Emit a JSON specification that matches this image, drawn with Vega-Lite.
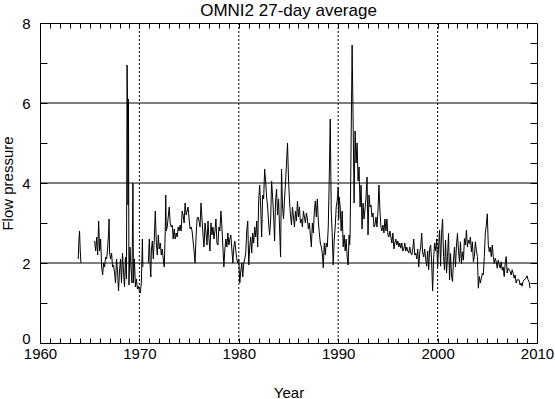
{
  "$schema": "https://vega.github.io/schema/vega-lite/v6.json",
  "width": 497,
  "height": 320,
  "autosize": {"type": "none"},
  "padding": {"left": 40, "top": 23, "right": 18, "bottom": 56},
  "background": "white",
  "title": {"text": "OMNI2 27-day average", "fontSize": 17, "font": "Liberation Sans", "fontWeight": "normal", "color": "black", "offset": -4},
  "config": {
    "view": {"stroke": "black", "strokeWidth": 1},
    "axis": {"labelFont": "Liberation Sans", "titleFont": "Liberation Sans", "labelFontSize": 15, "titleFontSize": 15, "titleFontWeight": "normal", "labelColor": "black", "titleColor": "black", "tickColor": "black", "domain": false, "grid": false, "labelFlush": false, "labelOverlap": false}
  },
  "datasets": {
    "hgrid": [{"v": 2}, {"v": 4}, {"v": 6}],
    "vgrid": [{"yr": 1970}, {"yr": 1980}, {"yr": 1990}, {"yr": 2000}],
    "series": [
      {"t":1963.85,"p":2.1,"s":1},{"t":1963.92,"p":2.6,"s":1},{"t":1963.98,"p":2.8,"s":1},{"t":1964.05,"p":2.3,"s":1},{"t":1964.12,"p":2.0,"s":1},
      {"t":1965.5,"p":2.55,"s":2},{"t":1965.6,"p":2.3,"s":2},{"t":1965.7,"p":2.65,"s":2},{"t":1965.8,"p":2.2,"s":2},{"t":1965.9,"p":3.05,"s":2},{"t":1966.0,"p":2.3,"s":2},{"t":1966.1,"p":2.6,"s":2},{"t":1966.2,"p":1.9,"s":2},{"t":1966.3,"p":1.7,"s":2},{"t":1966.4,"p":2.0,"s":2},{"t":1966.5,"p":1.9,"s":2},{"t":1966.6,"p":2.15,"s":2},{"t":1966.7,"p":2.1,"s":2},{"t":1966.8,"p":2.35,"s":2},{"t":1966.9,"p":2.75,"s":2},{"t":1966.95,"p":3.1,"s":2},{"t":1967.0,"p":2.25,"s":2},{"t":1967.1,"p":2.1,"s":2},{"t":1967.2,"p":2.25,"s":2},{"t":1967.3,"p":1.9,"s":2},{"t":1967.4,"p":1.95,"s":2},{"t":1967.5,"p":1.75,"s":2},{"t":1967.6,"p":1.5,"s":2},{"t":1967.7,"p":2.1,"s":2},{"t":1967.8,"p":1.8,"s":2},{"t":1967.9,"p":1.3,"s":2},{"t":1968.0,"p":1.8,"s":2},{"t":1968.1,"p":2.1,"s":2},{"t":1968.2,"p":1.5,"s":2},{"t":1968.3,"p":2.25,"s":2},{"t":1968.4,"p":1.8,"s":2},{"t":1968.5,"p":1.4,"s":2},{"t":1968.6,"p":2.15,"s":2},{"t":1968.7,"p":1.6,"s":2},{"t":1968.76,"p":6.95,"s":2},{"t":1968.8,"p":6.05,"s":2},{"t":1968.85,"p":3.45,"s":2},{"t":1968.9,"p":6.1,"s":2},{"t":1968.95,"p":1.45,"s":2},{"t":1969.05,"p":2.4,"s":2},{"t":1969.15,"p":1.9,"s":2},{"t":1969.25,"p":1.5,"s":2},{"t":1969.35,"p":4.0,"s":2},{"t":1969.4,"p":1.5,"s":2},{"t":1969.5,"p":2.1,"s":2},{"t":1969.6,"p":1.4,"s":2},{"t":1969.7,"p":1.6,"s":2},{"t":1969.8,"p":1.35,"s":2},{"t":1969.9,"p":1.42,"s":2},{"t":1970.0,"p":1.3,"s":2},{"t":1970.1,"p":1.25,"s":2},{"t":1970.2,"p":1.55,"s":2},{"t":1970.3,"p":2.6,"s":2},{"t":1970.35,"p":1.9,"s":2},
      {"t":1970.9,"p":2.0,"s":3},{"t":1971.0,"p":2.6,"s":3},{"t":1971.1,"p":1.85,"s":3},{"t":1971.15,"p":1.65,"s":3},{"t":1971.2,"p":2.3,"s":3},{"t":1971.3,"p":2.55,"s":3},{"t":1971.4,"p":2.1,"s":3},{"t":1971.5,"p":2.6,"s":3},{"t":1971.6,"p":3.3,"s":3},{"t":1971.7,"p":2.5,"s":3},{"t":1971.8,"p":2.2,"s":3},{"t":1971.9,"p":2.7,"s":3},{"t":1972.0,"p":2.35,"s":3},{"t":1972.1,"p":2.5,"s":3},{"t":1972.2,"p":2.2,"s":3},{"t":1972.3,"p":2.35,"s":3},{"t":1972.4,"p":2.1,"s":3},{"t":1972.5,"p":1.9,"s":3},{"t":1972.6,"p":2.8,"s":3},{"t":1972.65,"p":3.7,"s":3},{"t":1972.7,"p":2.8,"s":3},{"t":1972.8,"p":2.9,"s":3},{"t":1972.9,"p":3.15,"s":3},{"t":1973.0,"p":3.4,"s":3},{"t":1973.1,"p":3.0,"s":3},{"t":1973.2,"p":2.9,"s":3},{"t":1973.3,"p":2.95,"s":3},{"t":1973.4,"p":2.6,"s":3},{"t":1973.5,"p":2.85,"s":3},{"t":1973.6,"p":2.6,"s":3},{"t":1973.7,"p":2.75,"s":3},{"t":1973.8,"p":2.65,"s":3},{"t":1973.9,"p":2.9,"s":3},{"t":1974.0,"p":2.8,"s":3},{"t":1974.1,"p":2.95,"s":3},{"t":1974.2,"p":2.8,"s":3},{"t":1974.3,"p":3.3,"s":3},{"t":1974.4,"p":3.2,"s":3},{"t":1974.5,"p":3.0,"s":3},{"t":1974.6,"p":3.5,"s":3},{"t":1974.7,"p":3.2,"s":3},{"t":1974.8,"p":3.3,"s":3},{"t":1974.9,"p":3.4,"s":3},{"t":1975.0,"p":3.1,"s":3},{"t":1975.1,"p":2.85,"s":3},{"t":1975.2,"p":2.9,"s":3},{"t":1975.3,"p":2.8,"s":3},{"t":1975.4,"p":2.55,"s":3},{"t":1975.5,"p":2.3,"s":3},{"t":1975.6,"p":2.0,"s":3},{"t":1975.7,"p":2.65,"s":3},{"t":1975.8,"p":3.1,"s":3},{"t":1975.9,"p":3.15,"s":3},{"t":1976.0,"p":3.05,"s":3},{"t":1976.1,"p":2.9,"s":3},{"t":1976.2,"p":3.5,"s":3},{"t":1976.3,"p":3.1,"s":3},{"t":1976.4,"p":2.7,"s":3},{"t":1976.5,"p":2.4,"s":3},{"t":1976.6,"p":3.0,"s":3},{"t":1976.7,"p":2.75,"s":3},{"t":1976.8,"p":2.45,"s":3},{"t":1976.9,"p":3.05,"s":3},{"t":1977.0,"p":2.6,"s":3},{"t":1977.1,"p":2.3,"s":3},{"t":1977.2,"p":3.0,"s":3},{"t":1977.3,"p":2.7,"s":3},{"t":1977.4,"p":2.9,"s":3},{"t":1977.5,"p":2.6,"s":3},{"t":1977.6,"p":2.8,"s":3},{"t":1977.7,"p":3.1,"s":3},{"t":1977.8,"p":2.5,"s":3},{"t":1977.9,"p":2.45,"s":3},{"t":1978.0,"p":2.9,"s":3},{"t":1978.1,"p":2.8,"s":3},{"t":1978.2,"p":3.3,"s":3},{"t":1978.3,"p":2.9,"s":3},{"t":1978.4,"p":2.4,"s":3},{"t":1978.5,"p":1.9,"s":3},{"t":1978.6,"p":2.35,"s":3},{"t":1978.7,"p":2.6,"s":3},{"t":1978.8,"p":2.4,"s":3},{"t":1978.9,"p":2.75,"s":3},{"t":1979.0,"p":2.45,"s":3},{"t":1979.1,"p":2.6,"s":3},{"t":1979.2,"p":2.7,"s":3},{"t":1979.3,"p":2.35,"s":3},{"t":1979.4,"p":2.0,"s":3},{"t":1979.5,"p":2.4,"s":3},{"t":1979.6,"p":2.55,"s":3},{"t":1979.7,"p":2.3,"s":3},{"t":1979.8,"p":2.1,"s":3},{"t":1979.9,"p":2.0,"s":3},{"t":1980.0,"p":2.1,"s":3},{"t":1980.05,"p":1.75,"s":3},{"t":1980.1,"p":1.5,"s":3},{"t":1980.2,"p":1.8,"s":3},{"t":1980.3,"p":2.0,"s":3},{"t":1980.4,"p":1.65,"s":3},{"t":1980.5,"p":2.0,"s":3},{"t":1980.6,"p":2.1,"s":3},{"t":1980.7,"p":2.25,"s":3},{"t":1980.8,"p":2.8,"s":3},{"t":1980.9,"p":3.05,"s":3},{"t":1981.0,"p":1.95,"s":3},{"t":1981.1,"p":2.4,"s":3},{"t":1981.2,"p":2.65,"s":3},{"t":1981.3,"p":2.25,"s":3},{"t":1981.4,"p":2.75,"s":3},{"t":1981.5,"p":2.5,"s":3},{"t":1981.6,"p":2.9,"s":3},{"t":1981.7,"p":2.65,"s":3},{"t":1981.8,"p":3.05,"s":3},{"t":1981.9,"p":2.4,"s":3},{"t":1982.0,"p":3.55,"s":3},{"t":1982.1,"p":3.95,"s":3},{"t":1982.2,"p":3.4,"s":3},{"t":1982.3,"p":2.65,"s":3},{"t":1982.4,"p":3.7,"s":3},{"t":1982.5,"p":3.6,"s":3},{"t":1982.6,"p":4.35,"s":3},{"t":1982.7,"p":4.05,"s":3},{"t":1982.8,"p":3.65,"s":3},{"t":1982.9,"p":3.4,"s":3},{"t":1983.0,"p":3.0,"s":3},{"t":1983.1,"p":2.7,"s":3},{"t":1983.2,"p":3.05,"s":3},{"t":1983.3,"p":4.05,"s":3},{"t":1983.4,"p":3.65,"s":3},{"t":1983.5,"p":3.2,"s":3},{"t":1983.6,"p":2.55,"s":3},{"t":1983.7,"p":3.55,"s":3},{"t":1983.8,"p":3.85,"s":3},{"t":1983.9,"p":3.2,"s":3},{"t":1984.0,"p":3.6,"s":3},{"t":1984.1,"p":2.9,"s":3},{"t":1984.2,"p":2.15,"s":3},{"t":1984.3,"p":4.35,"s":3},{"t":1984.4,"p":3.4,"s":3},{"t":1984.5,"p":3.1,"s":3},{"t":1984.6,"p":3.6,"s":3},{"t":1984.7,"p":4.0,"s":3},{"t":1984.8,"p":4.5,"s":3},{"t":1984.9,"p":5.0,"s":3},{"t":1985.0,"p":4.1,"s":3},{"t":1985.1,"p":3.55,"s":3},{"t":1985.2,"p":3.2,"s":3},{"t":1985.3,"p":2.95,"s":3},{"t":1985.4,"p":3.4,"s":3},{"t":1985.5,"p":3.15,"s":3},{"t":1985.6,"p":2.9,"s":3},{"t":1985.7,"p":3.3,"s":3},{"t":1985.8,"p":3.05,"s":3},{"t":1985.9,"p":3.55,"s":3},{"t":1986.0,"p":3.15,"s":3},{"t":1986.1,"p":3.4,"s":3},{"t":1986.2,"p":3.0,"s":3},{"t":1986.3,"p":3.1,"s":3},{"t":1986.4,"p":2.9,"s":3},{"t":1986.5,"p":3.3,"s":3},{"t":1986.6,"p":3.15,"s":3},{"t":1986.7,"p":3.0,"s":3},{"t":1986.8,"p":3.25,"s":3},{"t":1986.9,"p":3.1,"s":3},{"t":1987.0,"p":2.85,"s":3},{"t":1987.1,"p":3.0,"s":3},{"t":1987.2,"p":2.7,"s":3},{"t":1987.3,"p":2.4,"s":3},{"t":1987.4,"p":3.0,"s":3},{"t":1987.5,"p":2.75,"s":3},{"t":1987.6,"p":3.3,"s":3},{"t":1987.7,"p":3.55,"s":3},{"t":1987.8,"p":3.15,"s":3},{"t":1987.9,"p":3.6,"s":3},{"t":1988.0,"p":3.05,"s":3},{"t":1988.1,"p":2.75,"s":3},{"t":1988.2,"p":2.5,"s":3},{"t":1988.3,"p":2.4,"s":3},{"t":1988.4,"p":2.25,"s":3},{"t":1988.5,"p":1.88,"s":3},{"t":1988.6,"p":2.5,"s":3},{"t":1988.7,"p":2.2,"s":3},{"t":1988.8,"p":2.5,"s":3},{"t":1988.9,"p":2.4,"s":3},{"t":1989.0,"p":2.9,"s":3},{"t":1989.1,"p":4.1,"s":3},{"t":1989.2,"p":5.6,"s":3},{"t":1989.3,"p":3.3,"s":3},{"t":1989.4,"p":2.7,"s":3},{"t":1989.5,"p":1.95,"s":3},{"t":1989.6,"p":2.6,"s":3},{"t":1989.7,"p":2.9,"s":3},{"t":1989.8,"p":3.4,"s":3},{"t":1989.9,"p":3.55,"s":3},{"t":1990.0,"p":3.9,"s":3},{"t":1990.05,"p":3.1,"s":3},{"t":1990.1,"p":3.65,"s":3},{"t":1990.2,"p":3.4,"s":3},{"t":1990.3,"p":2.8,"s":3},{"t":1990.4,"p":3.3,"s":3},{"t":1990.5,"p":2.4,"s":3},{"t":1990.6,"p":2.7,"s":3},{"t":1990.7,"p":2.3,"s":3},{"t":1990.8,"p":2.6,"s":3},{"t":1990.9,"p":2.15,"s":3},{"t":1991.0,"p":1.95,"s":3},{"t":1991.1,"p":2.7,"s":3},{"t":1991.15,"p":2.45,"s":3},{"t":1991.2,"p":2.75,"s":3},{"t":1991.3,"p":5.05,"s":3},{"t":1991.4,"p":7.45,"s":3},{"t":1991.5,"p":5.55,"s":3},{"t":1991.6,"p":3.5,"s":3},{"t":1991.7,"p":5.3,"s":3},{"t":1991.8,"p":4.5,"s":3},{"t":1991.9,"p":5.0,"s":3},{"t":1992.0,"p":4.05,"s":3},{"t":1992.1,"p":4.4,"s":3},{"t":1992.2,"p":3.4,"s":3},{"t":1992.3,"p":3.95,"s":3},{"t":1992.4,"p":2.85,"s":3},{"t":1992.5,"p":3.5,"s":3},{"t":1992.6,"p":3.1,"s":3},{"t":1992.7,"p":3.35,"s":3},{"t":1992.8,"p":3.65,"s":3},{"t":1992.9,"p":4.15,"s":3},{"t":1993.0,"p":2.7,"s":3},{"t":1993.1,"p":3.7,"s":3},{"t":1993.2,"p":3.4,"s":3},{"t":1993.3,"p":3.45,"s":3},{"t":1993.4,"p":3.15,"s":3},{"t":1993.5,"p":3.25,"s":3},{"t":1993.6,"p":2.9,"s":3},{"t":1993.7,"p":2.95,"s":3},{"t":1993.8,"p":3.15,"s":3},{"t":1993.9,"p":2.9,"s":3},{"t":1994.0,"p":3.3,"s":3},{"t":1994.1,"p":3.95,"s":3},{"t":1994.2,"p":3.3,"s":3},{"t":1994.3,"p":2.9,"s":3},{"t":1994.4,"p":2.8,"s":3},{"t":1994.5,"p":2.95,"s":3},{"t":1994.6,"p":2.75,"s":3},{"t":1994.7,"p":3.1,"s":3},{"t":1994.8,"p":2.8,"s":3},{"t":1994.9,"p":3.1,"s":3},{"t":1995.0,"p":2.7,"s":3},{"t":1995.1,"p":2.65,"s":3},{"t":1995.2,"p":2.8,"s":3},{"t":1995.3,"p":2.65,"s":3},{"t":1995.4,"p":2.5,"s":3},{"t":1995.5,"p":2.75,"s":3},{"t":1995.6,"p":2.35,"s":3},{"t":1995.7,"p":2.5,"s":3},{"t":1995.8,"p":2.6,"s":3},{"t":1995.9,"p":2.45,"s":3},{"t":1996.0,"p":2.55,"s":3},{"t":1996.1,"p":2.4,"s":3},{"t":1996.2,"p":2.5,"s":3},{"t":1996.3,"p":2.37,"s":3},{"t":1996.4,"p":2.5,"s":3},{"t":1996.5,"p":2.3,"s":3},{"t":1996.6,"p":2.35,"s":3},{"t":1996.7,"p":2.5,"s":3},{"t":1996.8,"p":2.3,"s":3},{"t":1996.9,"p":2.4,"s":3},{"t":1997.0,"p":2.3,"s":3},{"t":1997.1,"p":2.25,"s":3},{"t":1997.2,"p":2.4,"s":3},{"t":1997.3,"p":2.25,"s":3},{"t":1997.4,"p":2.2,"s":3},{"t":1997.5,"p":2.35,"s":3},{"t":1997.6,"p":2.6,"s":3},{"t":1997.7,"p":2.2,"s":3},{"t":1997.8,"p":2.25,"s":3},{"t":1997.9,"p":2.1,"s":3},{"t":1998.0,"p":2.35,"s":3},{"t":1998.1,"p":1.9,"s":3},{"t":1998.2,"p":2.25,"s":3},{"t":1998.3,"p":2.4,"s":3},{"t":1998.4,"p":2.75,"s":3},{"t":1998.5,"p":2.25,"s":3},{"t":1998.6,"p":2.15,"s":3},{"t":1998.7,"p":2.35,"s":3},{"t":1998.8,"p":2.1,"s":3},{"t":1998.9,"p":1.92,"s":3},{"t":1999.0,"p":2.3,"s":3},{"t":1999.1,"p":1.83,"s":3},{"t":1999.2,"p":2.35,"s":3},{"t":1999.3,"p":2.45,"s":3},{"t":1999.4,"p":2.05,"s":3},{"t":1999.45,"p":1.65,"s":3},{"t":1999.5,"p":1.3,"s":3},{"t":1999.6,"p":2.1,"s":3},{"t":1999.7,"p":2.5,"s":3},{"t":1999.8,"p":2.3,"s":3},{"t":1999.9,"p":2.6,"s":3},
      {"t":2000.0,"p":1.9,"s":3},{"t":2000.1,"p":2.4,"s":3},{"t":2000.2,"p":2.82,"s":3},{"t":2000.3,"p":1.92,"s":3},{"t":2000.4,"p":2.74,"s":3},{"t":2000.5,"p":3.1,"s":3},{"t":2000.6,"p":2.16,"s":3},{"t":2000.7,"p":1.83,"s":3},{"t":2000.8,"p":2.57,"s":3},{"t":2000.9,"p":1.75,"s":3},{"t":2001.0,"p":2.16,"s":3},{"t":2001.1,"p":2.74,"s":3},{"t":2001.2,"p":1.58,"s":3},{"t":2001.3,"p":2.24,"s":3},{"t":2001.4,"p":1.67,"s":3},{"t":2001.5,"p":1.54,"s":3},{"t":2001.6,"p":2.07,"s":3},{"t":2001.7,"p":2.4,"s":3},{"t":2001.8,"p":1.9,"s":3},{"t":2001.9,"p":2.45,"s":3},{"t":2002.0,"p":2.74,"s":3},{"t":2002.1,"p":2.32,"s":3},{"t":2002.2,"p":2.03,"s":3},{"t":2002.3,"p":2.53,"s":3},{"t":2002.4,"p":1.99,"s":3},{"t":2002.5,"p":2.28,"s":3},{"t":2002.6,"p":2.07,"s":3},{"t":2002.7,"p":2.61,"s":3},{"t":2002.8,"p":2.45,"s":3},{"t":2002.9,"p":2.82,"s":3},{"t":2003.0,"p":2.4,"s":3},{"t":2003.1,"p":2.57,"s":3},{"t":2003.2,"p":2.49,"s":3},{"t":2003.3,"p":2.65,"s":3},{"t":2003.4,"p":2.28,"s":3},{"t":2003.5,"p":2.53,"s":3},{"t":2003.6,"p":2.03,"s":3},{"t":2003.7,"p":2.16,"s":3},{"t":2003.8,"p":2.53,"s":3},{"t":2003.9,"p":2.32,"s":3},{"t":2004.0,"p":2.16,"s":3},{"t":2004.1,"p":1.37,"s":3},{"t":2004.2,"p":1.66,"s":3},{"t":2004.3,"p":1.5,"s":3},{"t":2004.4,"p":1.62,"s":3},{"t":2004.5,"p":1.74,"s":3},{"t":2004.6,"p":1.7,"s":3},{"t":2004.7,"p":2.16,"s":3},{"t":2004.8,"p":2.74,"s":3},{"t":2004.9,"p":2.94,"s":3},{"t":2005.0,"p":3.23,"s":3},{"t":2005.1,"p":2.45,"s":3},{"t":2005.2,"p":2.28,"s":3},{"t":2005.3,"p":2.4,"s":3},{"t":2005.4,"p":2.16,"s":3},{"t":2005.5,"p":2.45,"s":3},{"t":2005.6,"p":2.16,"s":3},{"t":2005.7,"p":1.99,"s":3},{"t":2005.8,"p":2.12,"s":3},{"t":2005.9,"p":2.03,"s":3},{"t":2006.0,"p":1.87,"s":3},{"t":2006.1,"p":2.07,"s":3},{"t":2006.2,"p":1.95,"s":3},{"t":2006.3,"p":1.87,"s":3},{"t":2006.4,"p":2.03,"s":3},{"t":2006.5,"p":1.82,"s":3},{"t":2006.6,"p":1.9,"s":3},{"t":2006.7,"p":1.66,"s":3},{"t":2006.8,"p":1.99,"s":3},{"t":2006.9,"p":2.16,"s":3},{"t":2007.0,"p":1.75,"s":3},{"t":2007.1,"p":1.87,"s":3},{"t":2007.2,"p":1.83,"s":3},{"t":2007.3,"p":1.79,"s":3},{"t":2007.4,"p":1.7,"s":3},{"t":2007.5,"p":1.83,"s":3},{"t":2007.6,"p":1.74,"s":3},{"t":2007.7,"p":1.62,"s":3},{"t":2007.8,"p":1.7,"s":3},{"t":2007.9,"p":1.5,"s":3},{"t":2008.0,"p":1.58,"s":3},{"t":2008.1,"p":1.58,"s":3},{"t":2008.2,"p":1.58,"s":3},{"t":2008.3,"p":1.45,"s":3},{"t":2008.4,"p":1.5,"s":3},{"t":2008.5,"p":1.42,"s":3},{"t":2008.6,"p":1.54,"s":3},{"t":2008.7,"p":1.58,"s":3},{"t":2008.8,"p":1.6,"s":3},{"t":2008.9,"p":1.62,"s":3},{"t":2009.0,"p":1.68,"s":3},{"t":2009.1,"p":1.58,"s":3},{"t":2009.2,"p":1.54,"s":3},{"t":2009.3,"p":1.37,"s":3}
    ]
  },
  "layer": [
    {
      "data": {"name": "hgrid"},
      "mark": {"type": "rule", "color": "black", "strokeWidth": 1},
      "encoding": {
        "y": {"field": "v", "type": "quantitative", "scale": {"domain": [0, 8], "nice": false, "zero": true},
          "axis": {"orient": "right", "title": null, "labels": false, "tickSize": -7, "values": [0.5,1,1.5,2,2.5,3,3.5,4,4.5,5,5.5,6,6.5,7,7.5]}}
      }
    },
    {
      "data": {"name": "vgrid"},
      "mark": {"type": "rule", "color": "black", "strokeWidth": 1, "strokeDash": [2, 2]},
      "encoding": {
        "x": {"field": "yr", "type": "quantitative", "scale": {"domain": [1960, 2010], "nice": false, "zero": false},
          "axis": {"orient": "top", "title": null, "labels": false, "tickSize": -5, "values": [1961,1962,1963,1964,1965,1966,1967,1968,1969,1970,1971,1972,1973,1974,1975,1976,1977,1978,1979,1980,1981,1982,1983,1984,1985,1986,1987,1988,1989,1990,1991,1992,1993,1994,1995,1996,1997,1998,1999,2000,2001,2002,2003,2004,2005,2006,2007,2008,2009]}}
      }
    },
    {
      "data": {"name": "series"},
      "mark": {"type": "line", "color": "black", "strokeWidth": 1},
      "encoding": {
        "x": {"field": "t", "type": "quantitative", "scale": {"domain": [1960, 2010], "nice": false, "zero": false},
          "axis": {"orient": "bottom", "title": "Year", "format": "d", "tickSize": -5, "labelPadding": 8, "titlePadding": 24,
            "values": [1960,1961,1962,1963,1964,1965,1966,1967,1968,1969,1970,1971,1972,1973,1974,1975,1976,1977,1978,1979,1980,1981,1982,1983,1984,1985,1986,1987,1988,1989,1990,1991,1992,1993,1994,1995,1996,1997,1998,1999,2000,2001,2002,2003,2004,2005,2006,2007,2008,2009,2010],
            "labelExpr": "datum.value % 10 == 0 ? datum.label : ''"}},
        "y": {"field": "p", "type": "quantitative", "scale": {"domain": [0, 8], "nice": false, "zero": true},
          "axis": {"orient": "left", "title": "Flow pressure", "format": "d", "tickSize": -7, "labelPadding": 17, "titlePadding": 6,
            "labelOffset": {"condition": {"test": "datum.value == 0", "value": -5}, "value": 0},
            "values": [0,0.5,1,1.5,2,2.5,3,3.5,4,4.5,5,5.5,6,6.5,7,7.5,8],
            "labelExpr": "datum.value % 2 == 0 ? datum.label : ''"}},
        "detail": {"field": "s", "type": "nominal"}
      }
    }
  ],
  "resolve": {"axis": {"x": "independent", "y": "independent"}}
}
